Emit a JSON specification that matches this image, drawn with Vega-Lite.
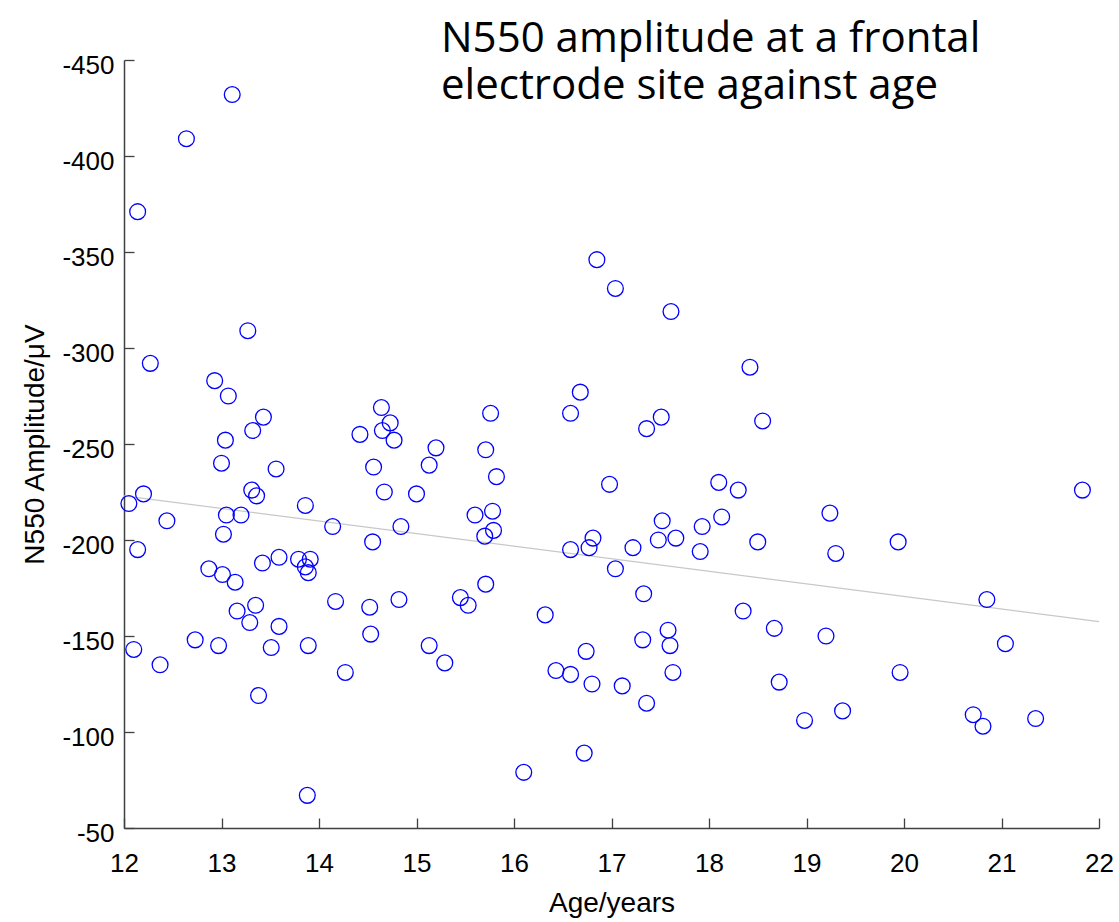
{
  "$schema": "https://vega.github.io/schema/vega-lite/v6.json",
  "width": 975,
  "height": 768,
  "autosize": {"type": "none"},
  "padding": {"left": 124, "top": 60, "right": 20, "bottom": 94},
  "background": "white",
  "title": {
    "text": ["N550 amplitude at a frontal", "electrode site against age"],
    "anchor": "start",
    "frame": "group",
    "orient": "top",
    "font": "Open Sans",
    "fontSize": 42,
    "fontWeight": "normal",
    "color": "#000000",
    "lineHeight": 47,
    "baseline": "alphabetic",
    "dx": 317,
    "offset": 0,
    "dy": 89
  },
  "config": {
    "view": {"stroke": null},
    "axis": {
      "grid": false,
      "domainColor": "#404040",
      "domainWidth": 1.5,
      "tickColor": "#404040",
      "tickWidth": 1.3,
      "tickSize": -10,
      "labelFont": "Liberation Sans",
      "labelFontSize": 26,
      "labelColor": "#000000",
      "titleFont": "Liberation Sans",
      "titleFontSize": 28,
      "titleFontWeight": "normal",
      "titleColor": "#000000",
      "labelExpr": "'' + datum.value"
    }
  },
  "datasets": {
    "points": [
      {"age": 13.11, "amp": -432}, {"age": 12.64, "amp": -409}, {"age": 12.14, "amp": -371},
      {"age": 16.85, "amp": -346}, {"age": 17.04, "amp": -331}, {"age": 17.61, "amp": -319},
      {"age": 13.27, "amp": -309}, {"age": 12.27, "amp": -292}, {"age": 12.93, "amp": -283},
      {"age": 13.07, "amp": -275}, {"age": 13.43, "amp": -264}, {"age": 13.32, "amp": -257},
      {"age": 13.04, "amp": -252}, {"age": 13.00, "amp": -240}, {"age": 13.56, "amp": -237},
      {"age": 13.31, "amp": -226}, {"age": 13.36, "amp": -223}, {"age": 12.20, "amp": -224},
      {"age": 12.05, "amp": -219}, {"age": 12.44, "amp": -210}, {"age": 13.05, "amp": -213},
      {"age": 13.20, "amp": -213}, {"age": 13.02, "amp": -203}, {"age": 12.14, "amp": -195},
      {"age": 13.86, "amp": -218}, {"age": 14.14, "amp": -207}, {"age": 14.55, "amp": -199},
      {"age": 14.84, "amp": -207}, {"age": 14.64, "amp": -269}, {"age": 14.73, "amp": -261},
      {"age": 14.65, "amp": -257}, {"age": 14.77, "amp": -252}, {"age": 14.42, "amp": -255},
      {"age": 14.56, "amp": -238}, {"age": 14.67, "amp": -225}, {"age": 15.00, "amp": -224},
      {"age": 15.20, "amp": -248}, {"age": 15.13, "amp": -239}, {"age": 12.87, "amp": -185},
      {"age": 13.01, "amp": -182}, {"age": 13.14, "amp": -178}, {"age": 13.42, "amp": -188},
      {"age": 13.59, "amp": -191}, {"age": 13.79, "amp": -190}, {"age": 13.91, "amp": -190},
      {"age": 13.86, "amp": -186}, {"age": 13.89, "amp": -183}, {"age": 14.17, "amp": -168},
      {"age": 14.52, "amp": -165}, {"age": 14.82, "amp": -169}, {"age": 14.53, "amp": -151},
      {"age": 15.13, "amp": -145}, {"age": 15.29, "amp": -136}, {"age": 13.35, "amp": -166},
      {"age": 13.16, "amp": -163}, {"age": 13.29, "amp": -157}, {"age": 13.59, "amp": -155},
      {"age": 12.73, "amp": -148}, {"age": 12.97, "amp": -145}, {"age": 13.51, "amp": -144},
      {"age": 13.89, "amp": -145}, {"age": 12.10, "amp": -143}, {"age": 12.37, "amp": -135},
      {"age": 14.27, "amp": -131}, {"age": 13.38, "amp": -119}, {"age": 13.88, "amp": -67},
      {"age": 18.42, "amp": -290}, {"age": 16.68, "amp": -277}, {"age": 15.76, "amp": -266},
      {"age": 16.58, "amp": -266}, {"age": 17.51, "amp": -264}, {"age": 17.36, "amp": -258},
      {"age": 18.55, "amp": -262}, {"age": 15.71, "amp": -247}, {"age": 15.82, "amp": -233},
      {"age": 16.98, "amp": -229}, {"age": 18.10, "amp": -230}, {"age": 18.30, "amp": -226},
      {"age": 15.60, "amp": -213}, {"age": 15.78, "amp": -215}, {"age": 15.70, "amp": -202},
      {"age": 15.79, "amp": -205}, {"age": 17.52, "amp": -210}, {"age": 18.13, "amp": -212},
      {"age": 17.93, "amp": -207}, {"age": 16.81, "amp": -201}, {"age": 16.77, "amp": -196},
      {"age": 16.58, "amp": -195}, {"age": 17.22, "amp": -196}, {"age": 17.48, "amp": -200},
      {"age": 17.66, "amp": -201}, {"age": 17.91, "amp": -194}, {"age": 18.50, "amp": -199},
      {"age": 17.04, "amp": -185}, {"age": 15.71, "amp": -177}, {"age": 15.45, "amp": -170},
      {"age": 15.53, "amp": -166}, {"age": 16.32, "amp": -161}, {"age": 17.33, "amp": -172},
      {"age": 18.35, "amp": -163}, {"age": 18.67, "amp": -154}, {"age": 17.58, "amp": -153},
      {"age": 17.32, "amp": -148}, {"age": 17.60, "amp": -145}, {"age": 16.74, "amp": -142},
      {"age": 16.43, "amp": -132}, {"age": 16.58, "amp": -130}, {"age": 16.80, "amp": -125},
      {"age": 17.11, "amp": -124}, {"age": 17.63, "amp": -131}, {"age": 17.36, "amp": -115},
      {"age": 18.72, "amp": -126}, {"age": 16.72, "amp": -89}, {"age": 16.10, "amp": -79},
      {"age": 20.85, "amp": -169}, {"age": 19.20, "amp": -150}, {"age": 21.04, "amp": -146},
      {"age": 19.96, "amp": -131}, {"age": 18.98, "amp": -106}, {"age": 19.37, "amp": -111},
      {"age": 20.71, "amp": -109}, {"age": 20.81, "amp": -103}, {"age": 21.35, "amp": -107},
      {"age": 21.83, "amp": -226}, {"age": 19.24, "amp": -214}, {"age": 19.94, "amp": -199},
      {"age": 19.30, "amp": -193}
    ],
    "fit": [
      {"age": 12, "amp": -223},
      {"age": 22, "amp": -157.5}
    ]
  },
  "layer": [
    {
      "data": {"name": "fit"},
      "mark": {"type": "line", "color": "#c8c8c8", "strokeWidth": 1.2},
      "encoding": {
        "x": {"field": "age", "type": "quantitative"},
        "y": {"field": "amp", "type": "quantitative"}
      }
    },
    {
      "data": {"name": "points"},
      "mark": {"type": "point", "shape": "circle", "filled": false, "color": "#0000ff", "size": 250, "strokeWidth": 1.3, "opacity": 1},
      "encoding": {
        "x": {
          "field": "age",
          "type": "quantitative",
          "scale": {"domain": [12, 22], "nice": false, "zero": false},
          "axis": {"title": "Age/years", "values": [12, 13, 14, 15, 16, 17, 18, 19, 20, 21, 22], "labelPadding": 32, "titlePadding": 13, "labelFlush": false}
        },
        "y": {
          "field": "amp",
          "type": "quantitative",
          "scale": {"domain": [-450, -50], "nice": false, "zero": false, "reverse": true},
          "axis": {"title": "N550 Amplitude/μV", "values": [-450, -400, -350, -300, -250, -200, -150, -100, -50], "labelPadding": 20, "labelOffset": 5, "titlePadding": 12, "labelFlush": false}
        }
      }
    }
  ]
}
